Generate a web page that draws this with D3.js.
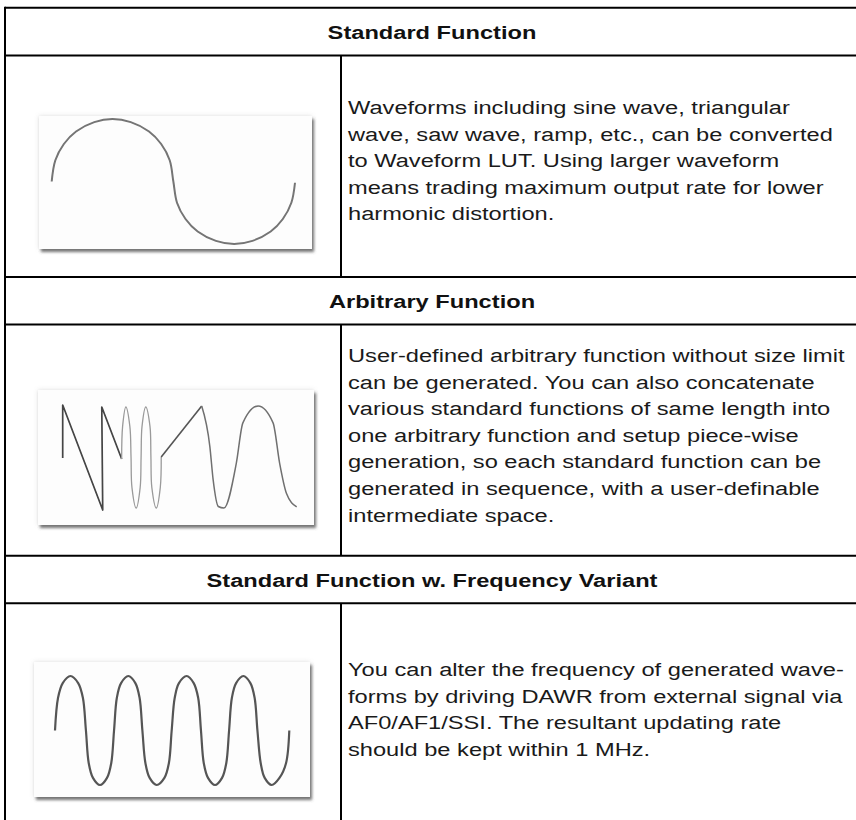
<!DOCTYPE html>
<html>
  <head>
    <meta charset="utf-8">
    <title>Waveform LUT functions</title>
    <script type="text/javascript" src="https://d3js.org/d3.v7.min.js"></script>
    <style>
      body { margin: 0; background: #ffffff; }
      svg { display: block; }
      .head { font-family: "Liberation Sans", Arial, sans-serif; font-weight: bold; font-size: 19px; fill: #111; }
      .desc { font-family: "Liberation Sans", Arial, sans-serif; font-size: 19px; fill: #1a1a1a; }
    </style>
  </head>
  <body>
    <script type="text/javascript">

      // section titles and description lines
      var headers = ["Standard Function", "Arbitrary Function", "Standard Function w. Frequency Variant"];

      var desc1 = ["Waveforms including sine wave, triangular",
                   "wave, saw wave, ramp, etc., can be converted",
                   "to Waveform LUT. Using larger waveform",
                   "means trading maximum output rate for lower",
                   "harmonic distortion."];
      var desc2 = ["User-defined arbitrary function without size limit",
                   "can be generated. You can also concatenate",
                   "various standard functions of same length into",
                   "one arbitrary function and setup piece-wise",
                   "generation, so each standard function can be",
                   "generated in sequence, with a user-definable",
                   "intermediate space."];
      var desc3 = ["You can alter the frequency of generated wave-",
                   "forms by driving DAWR from external signal via",
                   "AF0/AF1/SSI. The resultant updating rate",
                   "should be kept within 1 MHz."];

      // waveforms, [time 0..1, amplitude -1..1]
      var sineWave = [[0, 0], [0.015, 0.34], [0.05, 0.6], [0.1, 0.8], [0.175, 0.95], [0.25, 1],
                      [0.325, 0.95], [0.4, 0.8], [0.45, 0.6], [0.485, 0.34], [0.5, 0],
                      [0.515, -0.34], [0.55, -0.6], [0.6, -0.8], [0.675, -0.95], [0.75, -1],
                      [0.825, -0.95], [0.9, -0.8], [0.95, -0.6], [0.985, -0.34], [1, -0.02]];

      var arbSaw   = [[0, -0.02], [0, 1.02], [0.171, -1.04], [0.167, 0.98], [0.252, -0.04]];
      var arbLoops = [[0.252, -0.04], [0.256, 0.6], [0.27, 0.98], [0.287, 0.6], [0.292, 0],
                      [0.296, -0.6], [0.314, -1], [0.331, -0.6], [0.335, 0], [0.339, 0.6],
                      [0.355, 0.98], [0.373, 0.6], [0.377, 0], [0.381, -0.6], [0.4, -1],
                      [0.417, -0.6], [0.421, 0]];
      var arbRamp  = [[0.421, 0], [0.594, 1.0]];
      var arbSine  = [[0.594, 1.0], [0.629, 0.2], [0.643, -0.45], [0.665, -0.97], [0.689, -1.0],
                      [0.742, -0.12], [0.77, 0.67], [0.835, 1.0], [0.899, 0.67], [0.927, -0.12],
                      [0.956, -0.71], [1.0, -0.98]];

      var freqWave = [[0, 0], [0.013, 0.6], [0.033, 0.87], [0.066, 1], [0.099, 0.87], [0.119, 0.6], [0.132, 0],
                      [0.144, -0.6], [0.162, -0.87], [0.192, -1], [0.222, -0.87], [0.24, -0.6], [0.252, 0],
                      [0.264, 0.6], [0.282, 0.87], [0.313, 1], [0.343, 0.87], [0.361, 0.6], [0.373, 0],
                      [0.386, -0.6], [0.404, -0.87], [0.434, -1], [0.467, -0.87], [0.486, -0.6], [0.498, 0],
                      [0.511, 0.6], [0.529, 0.87], [0.562, 1], [0.592, 0.87], [0.611, 0.6], [0.623, 0],
                      [0.635, -0.6], [0.653, -0.87], [0.683, -1], [0.713, -0.87], [0.731, -0.6], [0.743, 0],
                      [0.755, 0.6], [0.773, 0.87], [0.804, 1], [0.834, 0.87], [0.852, 0.6], [0.864, 0],
                      [0.878, -0.6], [0.895, -0.87], [0.925, -1], [0.958, -0.87], [0.986, -0.6], [1, 0]];

      var width = 856;
      var height = 820;
      var left = 5;
      var divX = 341;
      var midX = 432;
      var stretch = 1.245;
      var lineH = 26.6;

      // layout of the three sections
      var rows = [
        {head: headers[0], top: 7.7, headBottom: 55.5, bottom: 277, base: 38.5, lines: desc1, textY: 114,
         box: [39, 116, 273, 133], wave: [51.7, 295, 244, 119]},
        {head: headers[1], top: 277, headBottom: 324.5, bottom: 555.7, base: 307.8, lines: desc2, textY: 362,
         box: [38, 390, 276, 135], wave: [62.7, 296.7, 508, 406]},
        {head: headers[2], top: 555.7, headBottom: 603.3, bottom: height, base: 586.5, lines: desc3, textY: 676,
         box: [34, 662, 276, 135], wave: [55, 289.3, 785, 676]}
      ];

      var svg = d3.select("body")
        .append("svg")
        .attr("width", width)
        .attr("height", height);

      var defs = svg.append("defs");
      var f = defs.append("filter").attr("id", "shadow")
        .attr("x", "-10%").attr("y", "-10%").attr("width", "125%").attr("height", "135%");
      f.append("feGaussianBlur").attr("in", "SourceAlpha").attr("stdDeviation", 1.6).attr("result", "b1");
      f.append("feOffset").attr("in", "b1").attr("dx", 2).attr("dy", 3).attr("result", "o1");
      f.append("feFlood").attr("flood-color", "#555").attr("flood-opacity", 0.8).attr("result", "c1");
      f.append("feComposite").attr("in", "c1").attr("in2", "o1").attr("operator", "in").attr("result", "s1");
      f.append("feGaussianBlur").attr("in", "SourceAlpha").attr("stdDeviation", 2).attr("result", "b2");
      f.append("feFlood").attr("flood-color", "#999").attr("flood-opacity", 0.35).attr("result", "c2");
      f.append("feComposite").attr("in", "c2").attr("in2", "b2").attr("operator", "in").attr("result", "s2");
      var m = f.append("feMerge");
      m.append("feMergeNode").attr("in", "s2");
      m.append("feMergeNode").attr("in", "s1");
      m.append("feMergeNode").attr("in", "SourceGraphic");

      defs.append("filter").attr("id", "soft")
        .append("feGaussianBlur").attr("stdDeviation", 0.45);

      function drawWave(g, r, pts, curve, color, w) {
        var x = d3.scaleLinear().domain([0, 1]).range([r.wave[0], r.wave[1]]);
        var y = d3.scaleLinear().domain([-1, 1]).range([r.wave[2], r.wave[3]]);
        var line = d3.line()
          .x(function(d) { return x(d[0]); })
          .y(function(d) { return y(d[1]); })
          .curve(curve);
        g.append("path")
          .attr("d", line(pts))
          .attr("fill", "none")
          .attr("stroke", color)
          .attr("stroke-width", w)
          .attr("stroke-linejoin", "round")
          .attr("filter", "url(#soft)");
      }

      rows.forEach(function(r, i) {
        // picture frame
        svg.append("rect")
          .attr("x", r.box[0]).attr("y", r.box[1])
          .attr("width", r.box[2]).attr("height", r.box[3])
          .attr("fill", "#fdfdfd")
          .attr("filter", "url(#shadow)");

        var g = svg.append("g");
        if (i == 0) {
          drawWave(g, r, sineWave, d3.curveCatmullRom, "#747474", 2);
        }
        if (i == 1) {
          drawWave(g, r, arbSaw, d3.curveLinear, "#444", 1.7);
          drawWave(g, r, arbLoops, d3.curveCatmullRom, "#9a9a9a", 1.3);
          drawWave(g, r, arbRamp, d3.curveLinear, "#555", 1.6);
          drawWave(g, r, arbSine, d3.curveMonotoneX, "#707070", 1.5);
        }
        if (i == 2) {
          drawWave(g, r, freqWave, d3.curveCatmullRom, "#555", 2.2);
        }

        // header text
        svg.append("text")
          .attr("class", "head")
          .attr("text-anchor", "middle")
          .attr("transform", "translate(" + midX + "," + r.base + ") scale(" + stretch + ",1)")
          .text(r.head);

        // description
        svg.selectAll(".d" + i)
          .data(r.lines)
          .enter()
          .append("text")
          .attr("class", "desc d" + i)
          .attr("transform", function(d, j) {
            return "translate(348," + (r.textY + j * lineH) + ") scale(" + stretch + ",1)";
          })
          .text(function(d) { return d; });

        // table rules
        svg.append("line").attr("x1", left).attr("x2", width).attr("y1", r.top).attr("y2", r.top);
        svg.append("line").attr("x1", left).attr("x2", width).attr("y1", r.headBottom).attr("y2", r.headBottom);
        svg.append("line").attr("x1", divX).attr("x2", divX).attr("y1", r.headBottom).attr("y2", r.bottom);
      });

      svg.append("line").attr("x1", left).attr("x2", left).attr("y1", 6.7).attr("y2", height);

      svg.selectAll("line")
        .attr("stroke", "#000")
        .attr("stroke-width", 2);

    </script>
  </body>
</html>
